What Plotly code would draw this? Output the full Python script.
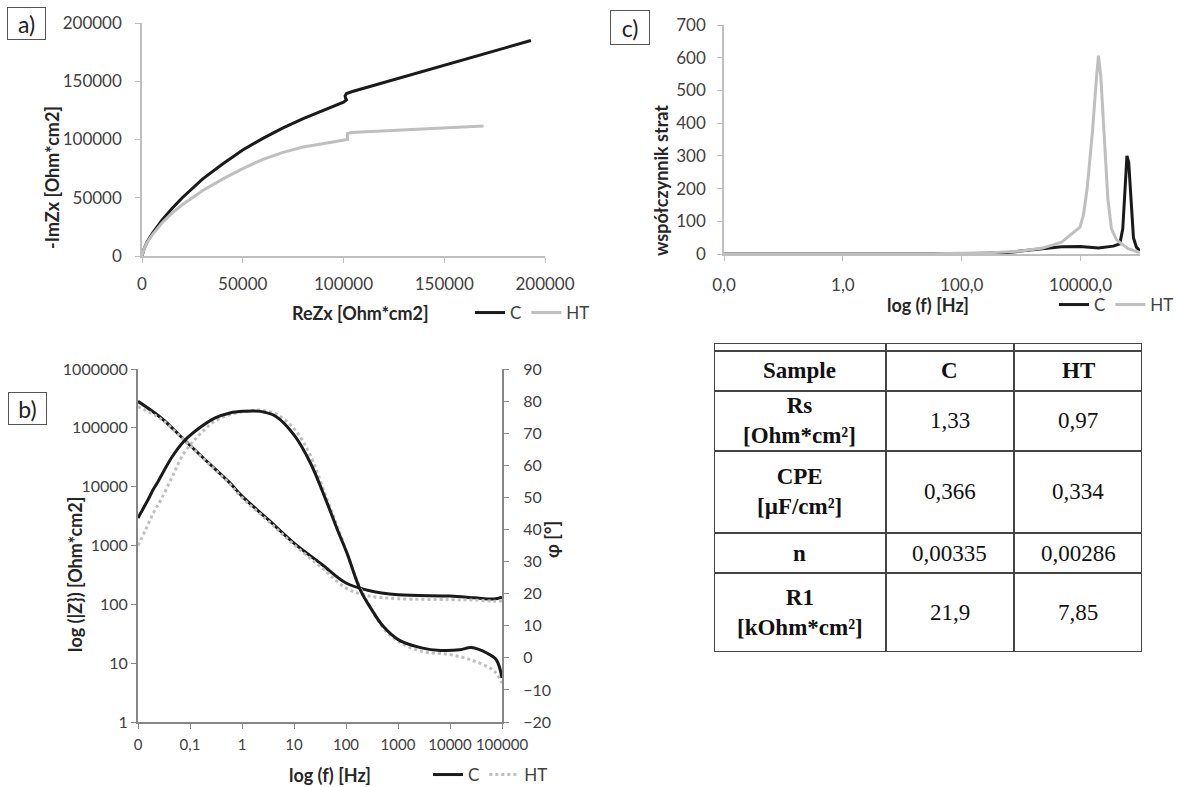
import plotly.graph_objects as go

# ---------------- data ----------------
# a) Nyquist
a_c_re = [0, 1000, 2500, 5000, 10000, 15000, 20000, 30000, 40000, 50000, 60000, 70000, 80000,
          90000, 100000, 101500, 101000, 100800, 101500, 104000, 193000]
a_c_im = [0, 6000, 12000, 19000, 31000, 41000, 50000, 66000, 79000, 91000, 101000, 110000, 118000,
          125000, 132000, 134000, 135500, 137500, 139500, 141000, 185000]
a_ht_re = [0, 1000, 2500, 5000, 10000, 15000, 20000, 30000, 40000, 50000, 60000, 70000, 80000,
           90000, 100000, 102000, 102000, 104000, 169500]
a_ht_im = [0, 6000, 11500, 18000, 28500, 37000, 44000, 56000, 66000, 75000, 83000, 89000, 93500,
           96500, 99000, 100000, 105000, 106000, 111500]
a_ticks = [0, 50000, 100000, 150000, 200000]

# b) Bode
b_f_z = [0.01, 0.028, 0.077, 0.21, 0.59, 1.0, 3.2, 10, 34, 100, 260, 1000, 10000, 30000, 70000, 100000]
b_z_c = [282000, 147000, 63000, 27000, 11500, 6900, 2750, 1100, 480, 230, 174, 145, 138, 129, 123, 132]
b_z_ht = [230000, 140000, 62000, 26500, 11000, 6500, 2600, 1030, 420, 190, 140, 125, 120, 118, 113, 115]

b_f_ph_c = [0.01, 0.0153, 0.0197, 0.0234, 0.046, 0.0766, 0.151, 0.298, 0.587, 1.05, 2.28, 4.5, 10.5,
            20.7, 40.8, 68, 104, 188, 313, 520, 1026, 2840, 6640, 15500, 25800, 50800, 77600, 100000]
b_ph_c = [43.6, 49.0, 52.5, 54.5, 62.8, 67.5, 71.6, 74.7, 76.3, 76.8, 76.8, 75.2, 69.0,
          60.7, 49.3, 40.0, 32.7, 21.2, 15.0, 9.8, 5.6, 3.1, 2.3, 2.5, 3.2, 1.5, -0.6, -6.3]
b_f_ph_ht = [0.01, 0.014, 0.0197, 0.0277, 0.046, 0.0766, 0.151, 0.298, 0.587, 1.16, 2.28, 4.5, 10.5,
             20.7, 40.8, 68, 104, 188, 520, 1026, 2840, 10100, 30500, 71300, 100000]
b_ph_ht = [35.0, 39.9, 45.1, 49.3, 56.6, 63.8, 69.5, 73.7, 75.8, 76.8, 77.2, 76.0, 71.0,
           63.0, 50.5, 41.0, 32.7, 21.8, 9.3, 5.1, 2.0, 1.0, -1.1, -4.2, -7.9]
b_xtickvals = [0.01, 0.1, 1, 10, 100, 1000, 10000, 100000]
b_xticktext = ["0", "0,1", "1", "10", "100", "1000", "10000", "100000"]
b_ytickvals = [1, 10, 100, 1000, 10000, 100000, 1000000]
b_yticktext = ["1", "10", "100", "1000", "10000", "100000", "1000000"]

# c) loss factor
c_f_ht = [0.01, 31.6, 316, 1000, 2290, 4790, 9770, 11200, 12900, 15800, 18600, 20000, 21900,
          24500, 28800, 33100, 40700, 63100, 100000]
c_ht = [0.5, 1, 4, 9, 18, 36, 82, 120, 200, 371, 543, 606, 543, 371, 168, 77, 42, 16, 4]
c_f_c = [0.01, 100, 550, 2290, 4790, 9770, 20000, 35500, 45700, 51300, 56200, 60300, 64600,
         70800, 77600, 87100, 100000]
c_c = [0.5, 1, 4, 16, 22, 23, 18, 24, 31, 77, 220, 300, 280, 150, 50, 21, 9]
c_xtickvals = [0.01, 1, 100, 10000]
c_xticktext = ["0,0", "1,0", "100,0", "10000,0"]

# table
tbl_col0 = ["", "<b>Sample</b>", "<b>Rs</b><br><b>[Ohm*cm²]</b>", "<b>CPE</b><br><b>[µF/cm²]</b>",
            "<b>n</b>", "<b>R1</b><br><b>[kOhm*cm²]</b>"]
tbl_col1 = ["", "<b>C</b>", "1,33", "0,366", "0,00335", "21,9"]
tbl_col2 = ["", "<b>HT</b>", "0,97", "0,334", "0,00286", "7,85"]

# ---------------- styling ----------------
W, H = 1178, 787
BLACK = "#1a1a1a"
LGRAY = "#bfbfbf"
TICKC = "#404040"
FONT = "Lato"
tbl_colw = [172, 128, 128]
tbl_rowh = [8, 40, 60, 82, 40, 79]


def px(x):
    return x / W


def py(y):
    return 1 - y / H


fig = go.Figure()

# a)
fig.add_trace(go.Scatter(x=a_c_re, y=a_c_im, mode="lines", name="C",
                         line=dict(color=BLACK, width=3), xaxis="x", yaxis="y", legend="legend"))
fig.add_trace(go.Scatter(x=a_ht_re, y=a_ht_im, mode="lines", name="HT",
                         line=dict(color=LGRAY, width=3), xaxis="x", yaxis="y", legend="legend"))

# b)
fig.add_trace(go.Scatter(x=b_f_z, y=b_z_c, mode="lines", name="C", line_shape="spline",
                         line=dict(color=BLACK, width=3), xaxis="x2", yaxis="y2", legend="legend2"))
fig.add_trace(go.Scatter(x=b_f_z, y=b_z_ht, mode="lines", name="HT", line_shape="spline",
                         line=dict(color=LGRAY, width=3, dash="dot"), xaxis="x2", yaxis="y2",
                         legend="legend2"))
fig.add_trace(go.Scatter(x=b_f_ph_ht, y=b_ph_ht, mode="lines", name="HT", showlegend=False,
                         line_shape="spline",
                         line=dict(color=LGRAY, width=3, dash="dot"), xaxis="x2", yaxis="y3"))
fig.add_trace(go.Scatter(x=b_f_ph_c, y=b_ph_c, mode="lines", name="C", showlegend=False,
                         line_shape="spline",
                         line=dict(color=BLACK, width=3), xaxis="x2", yaxis="y3"))

# c)
fig.add_trace(go.Scatter(x=c_f_c, y=c_c, mode="lines", name="C",
                         line=dict(color=BLACK, width=3), xaxis="x3", yaxis="y4", legend="legend3"))
fig.add_trace(go.Scatter(x=c_f_ht, y=c_ht, mode="lines", name="HT",
                         line=dict(color=LGRAY, width=3), xaxis="x3", yaxis="y4", legend="legend3"))


def axstyle(color, lw, size, standoff):
    return dict(showgrid=False, zeroline=False, showline=True, ticks="outside", ticklen=5,
                linecolor=color, linewidth=lw, tickcolor=color, automargin=False,
                ticklabelstandoff=standoff,
                tickfont=dict(family=FONT, size=size, color=TICKC))


tbl_w = sum(tbl_colw)
tbl_h = sum(tbl_rowh)

fig.update_layout(
    width=W, height=H, margin=dict(l=0, r=0, t=0, b=0, autoexpand=False),
    paper_bgcolor="white", plot_bgcolor="white",
    font=dict(family=FONT, color=TICKC),
    xaxis=dict(domain=[px(142), px(545)], range=[0, 200000], tickvals=a_ticks, tickformat="d",
               anchor="y", **axstyle(LGRAY, 1.5, 17, 7)),
    yaxis=dict(domain=[py(256), py(23)], range=[0, 200000], tickvals=a_ticks, tickformat="d",
               anchor="x", **axstyle(LGRAY, 1.5, 17, 10)),
    xaxis2=dict(domain=[px(138), px(502)], type="log", range=[-2, 5], tickvals=b_xtickvals,
                ticktext=b_xticktext, anchor="y2", tickangle=0, **axstyle("#868686", 2, 15, 3)),
    yaxis2=dict(domain=[py(722), py(369)], type="log", range=[0, 6], tickvals=b_ytickvals,
                ticktext=b_yticktext, anchor="x2", **axstyle("#868686", 2, 16, 0)),
    yaxis3=dict(domain=[py(722), py(369)], range=[-20, 90], dtick=10, side="right",
                overlaying="y2", anchor="x2", **axstyle("#868686", 2, 16, 11)),
    xaxis3=dict(domain=[px(724), px(1140)], type="log", range=[-2, 5], tickvals=c_xtickvals,
                ticktext=c_xticktext, anchor="y4", **axstyle(LGRAY, 1.5, 17, 10)),
    yaxis4=dict(domain=[py(254), py(25)], range=[0, 700], dtick=100, anchor="x3",
                **axstyle(LGRAY, 1.5, 17, 8)),
    # hidden axes that carry the table
    xaxis4=dict(domain=[px(714), px(1142)], range=[0, tbl_w], visible=False, anchor="y5",
                fixedrange=True),
    yaxis5=dict(domain=[py(652), py(343)], range=[tbl_h, 0], visible=False, anchor="x4",
                fixedrange=True),
    legend=dict(orientation="h", x=px(470), y=py(313), xanchor="left", yanchor="middle",
                font=dict(family=FONT, size=17, color=TICKC), bgcolor="rgba(0,0,0,0)",
                itemwidth=30),
    legend2=dict(orientation="h", x=px(428), y=py(775), xanchor="left", yanchor="middle",
                 font=dict(family=FONT, size=17, color=TICKC), bgcolor="rgba(0,0,0,0)",
                 itemwidth=30),
    legend3=dict(orientation="h", x=px(1054), y=py(305), xanchor="left", yanchor="middle",
                 font=dict(family=FONT, size=17, color=TICKC), bgcolor="rgba(0,0,0,0)",
                 itemwidth=30),
)

# table grid and cell text (on the hidden table axes)
TLINE = dict(color="#444444", width=2)
col_edges = [0]
for w in tbl_colw:
    col_edges.append(col_edges[-1] + w)
row_edges = [0]
for h in tbl_rowh:
    row_edges.append(row_edges[-1] + h)
for xe in col_edges:
    fig.add_shape(type="line", xref="x4", yref="y5", x0=xe, x1=xe, y0=0, y1=tbl_h, line=TLINE)
for ye in row_edges:
    fig.add_shape(type="line", xref="x4", yref="y5", x0=0, x1=tbl_w, y0=ye, y1=ye, line=TLINE)
for ci, col in enumerate([tbl_col0, tbl_col1, tbl_col2]):
    for ri, txt in enumerate(col):
        if not txt:
            continue
        fig.add_annotation(xref="x4", yref="y5", showarrow=False, text=txt,
                           x=(col_edges[ci] + col_edges[ci + 1]) / 2,
                           y=(row_edges[ri] + row_edges[ri + 1]) / 2,
                           xanchor="center", yanchor="middle", align="center",
                           font=dict(family="Liberation Serif", size=23, color="#111111"))

TITLE_FONT = dict(family=FONT, size=18, color="#262626")
annos = [
    dict(text="<b>ReZx [Ohm*cm2]</b>", x=px(360), y=py(313)),
    dict(text="<b>-ImZx [Ohm*cm2]</b>", x=px(52), y=py(178), textangle=-90),
    dict(text="<b>log (f) [Hz]</b>", x=px(330), y=py(775)),
    dict(text="<b>log (|Z}) [Ohm*cm2]</b>", x=px(75), y=py(575), textangle=-90),
    dict(text="<b>φ [°]</b>", x=px(552), y=py(540), textangle=-90),
    dict(text="<b>log (f) [Hz]</b>", x=px(928), y=py(305)),
    dict(text="<b>współczynnik strat</b>", x=px(661), y=py(181), textangle=-90),
]
for a in annos:
    fig.add_annotation(xref="paper", yref="paper", showarrow=False, font=TITLE_FONT,
                       xanchor="center", yanchor="middle", **a)

for lab, cx, cy, bw, bh in [("a)", 26.5, 23.5, 37, 31), ("b)", 27.5, 408.5, 37, 31),
                            ("c)", 630, 27.5, 38, 33)]:
    fig.add_annotation(xref="paper", yref="paper", showarrow=False, text=lab,
                       x=px(cx), y=py(cy), xanchor="center", yanchor="middle",
                       font=dict(family=FONT, size=23, color="#222222"),
                       bordercolor="#555555", borderwidth=1, borderpad=0, bgcolor="white",
                       width=bw, height=bh)

fig.write_html("out.html", config={"displayModeBar": False},
               post_script="document.body.style.margin='0';")
